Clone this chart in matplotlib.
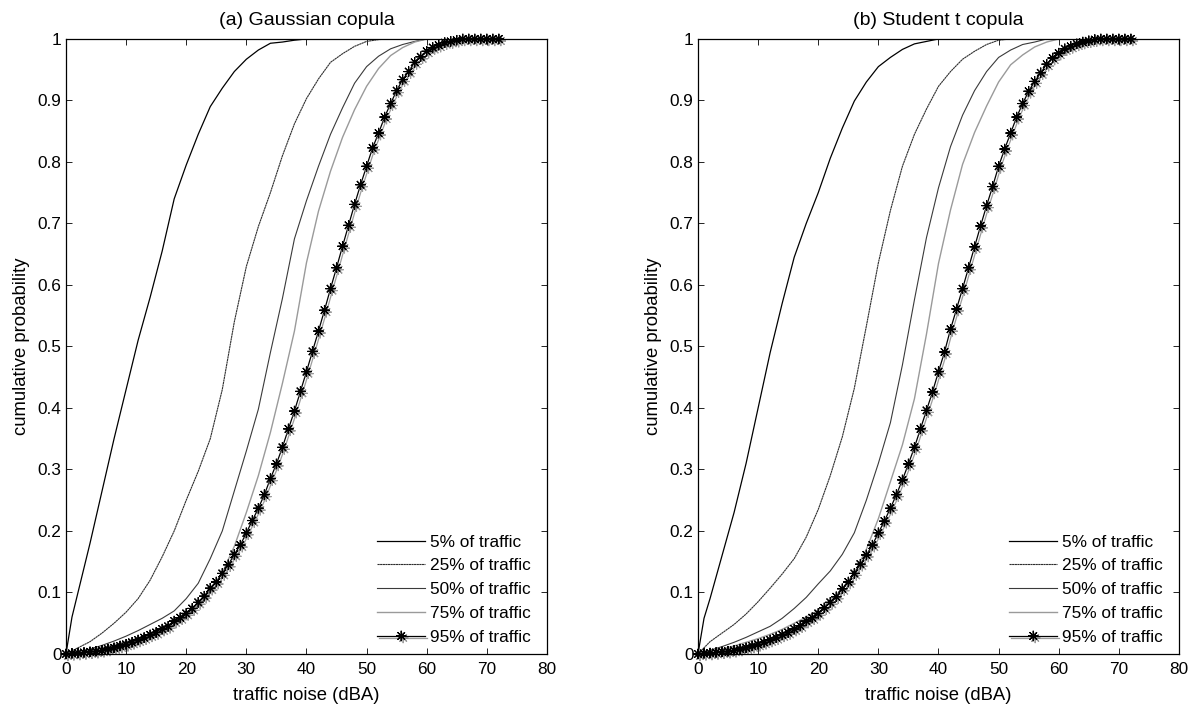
import numpy as np
import matplotlib
matplotlib.use("Agg")
import matplotlib.pyplot as plt
import matplotlib.patheffects as pe
from matplotlib.ticker import FormatStrFormatter, MultipleLocator

plt.rcParams['font.family'] = ['Liberation Sans', 'DejaVu Sans']

TICK_FS = 12.4
LABEL_FS = 13.3
TITLE_FS = 14

labels = ["5% of traffic", "25% of traffic", "50% of traffic",
          "75% of traffic", "95% of traffic"]
titles = ["(a) Gaussian copula", "(b) Student t copula"]

# --- (a) Gaussian copula ---
g05_x = [0, 1, 2, 4, 6, 8, 10, 12, 14, 16, 18, 20, 22, 24, 26, 28, 30, 32, 34, 36, 38, 40]
g05_y = [0, 0.06, 0.10, 0.18, 0.265, 0.35, 0.43, 0.51, 0.58, 0.655, 0.74, 0.795, 0.845,
         0.89, 0.92, 0.947, 0.967, 0.982, 0.993, 0.995, 0.998, 1.0]

g25_x = list(range(0, 56, 2))
g25_y = [0, 0.01, 0.02, 0.034, 0.05, 0.068, 0.09, 0.12, 0.158, 0.20, 0.25, 0.297, 0.35,
         0.43, 0.54, 0.63, 0.695, 0.75, 0.81, 0.862, 0.903, 0.935, 0.962, 0.976, 0.988,
         0.996, 0.999, 1.0]

g50_x = list(range(0, 62, 2))
g50_y = [0, 0.004, 0.008, 0.014, 0.021, 0.029, 0.038, 0.048, 0.058, 0.07, 0.09, 0.115,
         0.155, 0.20, 0.265, 0.33, 0.398, 0.49, 0.578, 0.675, 0.737, 0.793, 0.845, 0.888,
         0.928, 0.955, 0.972, 0.984, 0.991, 0.996, 1.0]

g75_x = list(range(0, 62, 2))
g75_y = [0, 0.003, 0.006, 0.01, 0.015, 0.02, 0.026, 0.032, 0.04, 0.05, 0.062, 0.08,
         0.103, 0.132, 0.175, 0.23, 0.29, 0.36, 0.44, 0.525, 0.636, 0.72, 0.785, 0.84,
         0.885, 0.923, 0.952, 0.973, 0.986, 0.995, 1.0]

g95_x = list(range(0, 73))
g95_y = [0, 0.001, 0.0015, 0.0025, 0.0035, 0.0045, 0.006, 0.008, 0.010, 0.013, 0.0157,
         0.019, 0.0227, 0.0266, 0.031, 0.035, 0.0405, 0.045, 0.0535, 0.059, 0.066, 0.074,
         0.084, 0.094, 0.107, 0.117, 0.131, 0.145, 0.162, 0.177, 0.197, 0.217, 0.237,
         0.259, 0.285, 0.309, 0.336, 0.366, 0.395, 0.427, 0.459, 0.492, 0.525, 0.559,
         0.594, 0.628, 0.663, 0.697, 0.731, 0.763, 0.793, 0.823, 0.847, 0.873, 0.895,
         0.916, 0.934, 0.947, 0.962, 0.971, 0.980, 0.986, 0.990, 0.994, 0.996, 0.998,
         1.0, 1.0, 1.0, 1.0, 1.0, 1.0, 1.0]

# --- (b) Student t copula ---
t05_x = [0, 1, 2, 4, 6, 8, 10, 12, 14, 16, 18, 20, 22, 24, 26, 28, 30, 32, 34, 36, 38, 40]
t05_y = [0, 0.058, 0.09, 0.16, 0.23, 0.31, 0.40, 0.49, 0.57, 0.645, 0.70, 0.75, 0.806,
         0.855, 0.899, 0.93, 0.955, 0.97, 0.983, 0.992, 0.996, 1.0]

t25_x = list(range(0, 54, 2))
t25_y = [0, 0.02, 0.034, 0.048, 0.065, 0.085, 0.107, 0.13, 0.155, 0.19, 0.235, 0.29,
         0.353, 0.432, 0.533, 0.636, 0.721, 0.793, 0.845, 0.886, 0.923, 0.947, 0.967,
         0.98, 0.991, 0.998, 1.0]

t50_x = list(range(0, 60, 2))
t50_y = [0, 0.006, 0.012, 0.019, 0.027, 0.036, 0.045, 0.058, 0.074, 0.092, 0.114, 0.135,
         0.162, 0.197, 0.25, 0.31, 0.376, 0.47, 0.576, 0.677, 0.758, 0.825, 0.876, 0.916,
         0.947, 0.97, 0.982, 0.991, 0.995, 1.0]

t75_x = list(range(0, 62, 2))
t75_y = [0, 0.004, 0.008, 0.013, 0.019, 0.025, 0.032, 0.04, 0.05, 0.06, 0.071, 0.087,
         0.106, 0.132, 0.17, 0.22, 0.28, 0.34, 0.415, 0.52, 0.635, 0.722, 0.796, 0.848,
         0.891, 0.93, 0.958, 0.974, 0.987, 0.995, 1.0]

t95_x = list(range(0, 73))
t95_y = [0, 0.001, 0.0015, 0.0025, 0.0035, 0.0045, 0.006, 0.008, 0.010, 0.013, 0.0157,
         0.019, 0.0227, 0.0266, 0.031, 0.035, 0.0405, 0.046, 0.0535, 0.059, 0.066, 0.075,
         0.084, 0.093, 0.106, 0.117, 0.131, 0.146, 0.161, 0.177, 0.197, 0.216, 0.237,
         0.259, 0.283, 0.309, 0.336, 0.366, 0.396, 0.426, 0.459, 0.491, 0.528, 0.561,
         0.594, 0.628, 0.662, 0.696, 0.729, 0.760, 0.793, 0.821, 0.847, 0.873, 0.895,
         0.915, 0.931, 0.945, 0.959, 0.969, 0.977, 0.984, 0.988, 0.992, 0.995, 0.997,
         0.999, 1.0, 1.0, 1.0, 1.0, 1.0, 1.0]

panels = [
    [(g05_x, g05_y), (g25_x, g25_y), (g50_x, g50_y), (g75_x, g75_y), (g95_x, g95_y)],
    [(t05_x, t05_y), (t25_x, t25_y), (t50_x, t50_y), (t75_x, t75_y), (t95_x, t95_y)],
]

colors = ['black', '#2e2e2e', '#3a3a3a', '#9a9a9a']
widths = [0.9, 0.8, 0.8, 1.0]
styles = ['-', (0, (2, 0.35)), '-', '-']

# matlab-ish asterisk: plus and cross together
asterisk = (8, 2, 0)

fig = plt.figure(figsize=(11.95, 7.11), dpi=100)
boxes = [[0.0552, 0.0802, 0.4025, 0.865], [0.5841, 0.0802, 0.4025, 0.865]]

for box, title, curves in zip(boxes, titles, panels):
    ax = fig.add_axes(box)
    for i, (xs, ys) in enumerate(curves[:4]):
        ax.plot(xs, ys, color=colors[i], lw=widths[i], ls=styles[i], label=labels[i])
    xs, ys = curves[4]
    ax.plot(xs, ys, color='black', lw=0.9, marker=asterisk, markersize=7.5,
            markeredgewidth=0.8, clip_on=False, label=labels[4],
            path_effects=[pe.SimpleLineShadow(offset=(1.4, -1.4),
                                              shadow_color='0.45', alpha=0.7),
                          pe.Normal()])
    ax.set_xlim(0, 80)
    ax.set_ylim(0, 1)
    ax.xaxis.set_major_locator(MultipleLocator(10))
    ax.yaxis.set_major_locator(MultipleLocator(0.1))
    ax.yaxis.set_major_formatter(FormatStrFormatter('%g'))
    ax.tick_params(direction='in', top=True, right=True, length=4, width=0.6,
                   labelsize=TICK_FS)
    ax.tick_params(axis='x', pad=6)
    ax.tick_params(axis='y', pad=3.3)
    for s in ax.spines.values():
        s.set_linewidth(0.9)
    ax.set_title(title, fontsize=TITLE_FS, pad=10)
    ax.set_xlabel("traffic noise (dBA)", fontsize=LABEL_FS, labelpad=7)
    ax.set_ylabel("cumulative probability", fontsize=LABEL_FS, labelpad=5)
    ax.legend(loc='lower right', bbox_to_anchor=(0.967, 0.0146), frameon=False,
              fontsize=TICK_FS, handlelength=2.8, handletextpad=0.29,
              labelspacing=0.51, numpoints=1, borderaxespad=0, borderpad=0)

fig.savefig("out.png", dpi=100)
